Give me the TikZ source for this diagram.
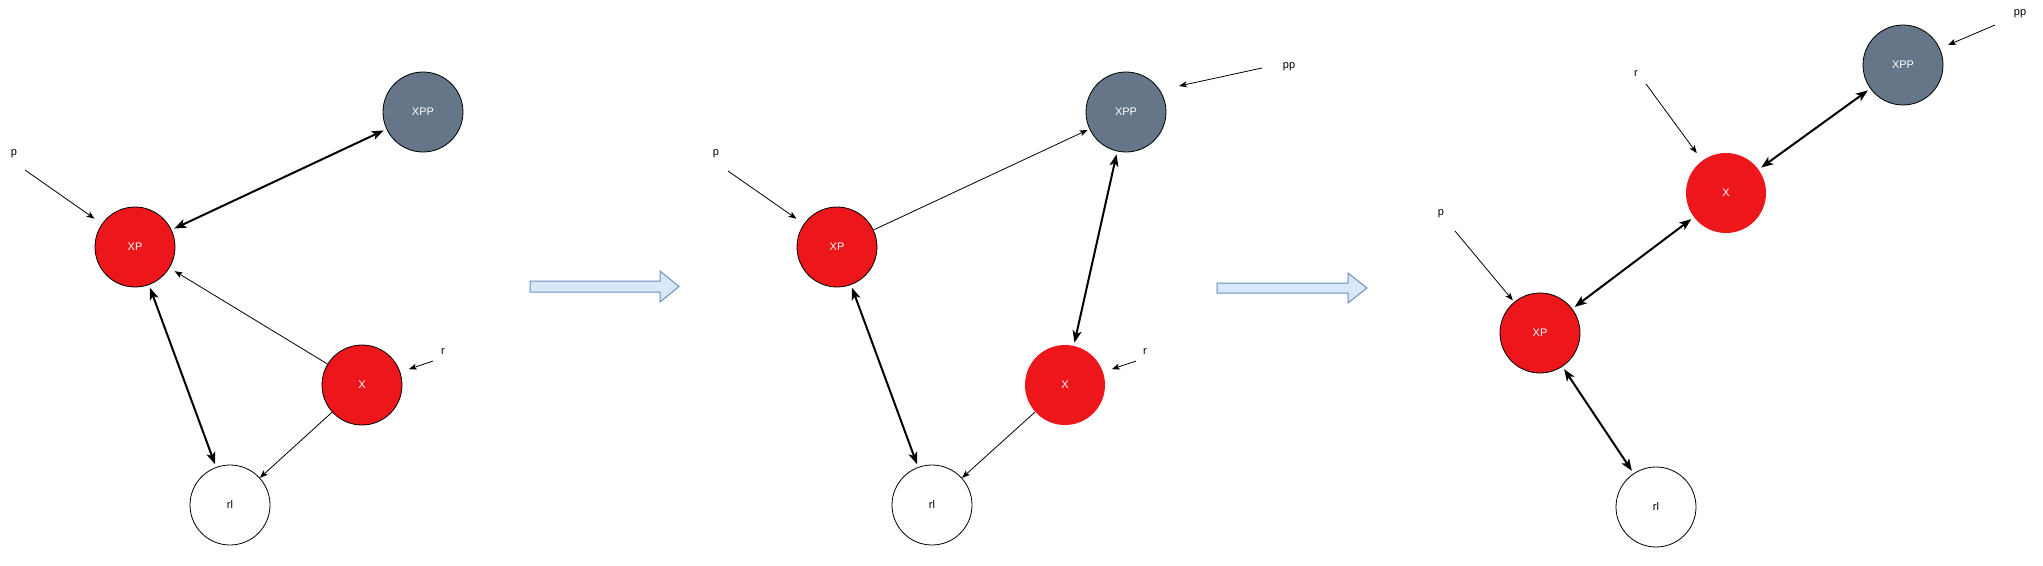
\documentclass[tikz,border=0pt]{standalone}
\usepackage{fontspec}
\setmainfont{Liberation Sans}
\usetikzlibrary{arrows.meta}
\definecolor{nred}{RGB}{237,23,27}
\definecolor{ngray}{RGB}{100,118,135}
\definecolor{bfill}{RGB}{218,232,252}
\definecolor{bline}{RGB}{108,142,191}
\tikzset{
  nd/.style={circle,minimum size=80pt,inner sep=0pt,draw=black,line width=0.8pt,font=\fontsize{11}{13}\selectfont},
  rednd/.style={nd,fill=nred,text=white},
  rednb/.style={nd,fill=nred,draw=none,text=white},
  graynd/.style={nd,fill=ngray,text=white},
  whitend/.style={nd,fill=white,text=black},
  lbl/.style={font=\fontsize{11}{13}\selectfont,inner sep=0pt},
  thick2/.style={line width=2pt,{Stealth[length=12pt,width=9pt,inset=3pt]}-{Stealth[length=12pt,width=9pt,inset=3pt]},shorten <=3pt,shorten >=3pt},
  thin1/.style={line width=0.8pt,-{Stealth[length=8pt,width=6pt,inset=2pt]}},
  blockarr/.style={fill=bfill,draw=bline,line width=1pt,line join=miter}
}
\begin{document}
\begin{tikzpicture}[x=1pt,y=-1pt]
\useasboundingbox[fill=white] (0,0) rectangle (2043,565);

% ---------- Panel 1 ----------
\node[graynd]  (XPP1) at (423,112) {XPP};
\node[rednd]   (XP1)  at (135,247) {XP};
\node[rednd]   (X1)   at (362,385) {X};
\node[whitend] (rl1)  at (230,505) {rl};
\node[lbl] (p1) at (14,154) {p};
\node[lbl] (r1) at (443,352) {r};
\coordinate (p1s) at (25,170);
\coordinate (r1s) at (433,361);

\draw[thick2] (XP1) -- (XPP1);
\draw[thick2] (XP1) -- (rl1);
\draw[thin1,shorten >=6pt] (X1) -- (XP1);
\draw[thin1] (X1) -- (rl1);
\draw[thin1,shorten >=9pt] (p1s) -- (XP1);
\draw[thin1,shorten >=9pt] (r1s) -- (X1);

% block arrow 1
\path[blockarr] (530,281) -- (660,281) -- (660,271) -- (679,286.5) -- (660,302) -- (660,292) -- (530,292) -- cycle;

% ---------- Panel 2 ----------
\node[graynd]  (XPP2) at (1126,112) {XPP};
\node[rednd]   (XP2)  at (837,247) {XP};
\node[rednb]   (X2)   at (1065,385) {X};
\node[whitend] (rl2)  at (932,505) {rl};
\node[lbl] (p2)  at (716,154) {p};
\node[lbl] (r2)  at (1145,352) {r};
\node[lbl] (pp2) at (1289,67) {pp};
\coordinate (p2s)  at (728,171);
\coordinate (r2s)  at (1136,361);
\coordinate (pp2s) at (1262,68);
\coordinate (pp2e) at (1179,86);

\draw[thin1,shorten >=2pt] (XP2) -- (XPP2);
\draw[thick2] (XPP2) -- (X2);
\draw[thick2] (XP2) -- (rl2);
\draw[thin1] (X2) -- (rl2);
\draw[thin1,shorten >=9pt] (p2s) -- (XP2);
\draw[thin1,shorten >=9pt] (r2s) -- (X2);
\draw[thin1] (pp2s) -- (pp2e);

% block arrow 2
\path[blockarr] (1217,283) -- (1348,283) -- (1348,273) -- (1367,288) -- (1348,303) -- (1348,293) -- (1217,293) -- cycle;

% ---------- Panel 3 ----------
\node[graynd]  (XPP3) at (1903,65) {XPP};
\node[rednb]   (X3)   at (1726,193) {X};
\node[rednd]   (XP3)  at (1540,333) {XP};
\node[whitend] (rl3)  at (1656,507) {rl};
\node[lbl] (p3)  at (1441,214) {p};
\node[lbl] (r3)  at (1636,74) {r};
\node[lbl] (pp3) at (2020,14) {pp};
\coordinate (p3s)  at (1455,231);
\coordinate (r3s)  at (1646,84);
\coordinate (pp3s) at (1995,25);
\coordinate (pp3e) at (1948,45);

\draw[thick2] (XP3) -- (X3);
\draw[thick2] (X3) -- (XPP3);
\draw[thick2] (XP3) -- (rl3);
\draw[thin1,shorten >=2pt] (p3s) -- (XP3);
\draw[thin1,shorten >=9pt] (r3s) -- (X3);
\draw[thin1] (pp3s) -- (pp3e);
\end{tikzpicture}
\end{document}
